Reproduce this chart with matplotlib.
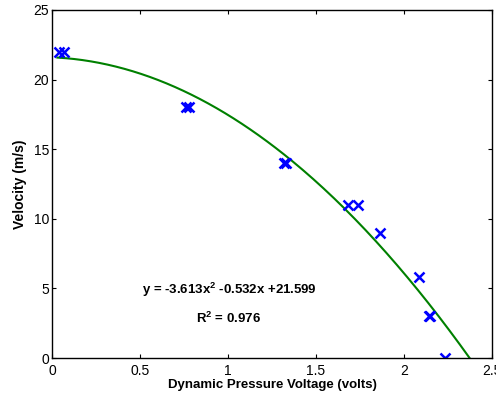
import numpy as np
from matplotlib import pyplot as plt

plt.rcParams['font.family'] = ['Liberation Sans', 'DejaVu Sans']
plt.rcParams['mathtext.fontset'] = 'custom'
plt.rcParams['mathtext.bf'] = 'Liberation Sans:bold'
plt.rcParams['mathtext.default'] = 'bf'

# ---------- data ----------
voltage = [0.04, 0.07, 0.76, 0.78, 1.32, 1.33, 1.68, 1.74, 1.865, 2.085, 2.14, 2.15, 2.235]
velocity = [22, 22, 18, 18, 14, 14, 11, 11, 9, 5.8, 3, 3, 0]
coef = [-3.613, -0.532, 21.599]
eq_text = 'y = -3.613x$^2$ -0.532x +21.599'
r2_text = 'R$^2$ = 0.976'

# ---------- fit curve ----------
x_fit = np.linspace(0.03, 2.4, 200)
y_fit = np.polyval(coef, x_fit)

fig = plt.figure(figsize=(4.96, 3.98), dpi=100)
ax = fig.add_axes([0.105, 0.1005, 0.887, 0.8745])
ax.plot(x_fit, y_fit, color='#008000', lw=1.5)
ax.plot(voltage, velocity, 'x', color='#0000ff', ms=7, mew=1.8)

ax.text(1.01, 4.9, eq_text, ha='center', va='center', fontsize=9.5, fontweight='bold')
ax.text(1.0, 2.85, r2_text, ha='center', va='center', fontsize=9.5, fontweight='bold')

ax.set_xlim(0, 2.5)
ax.set_ylim(0, 25)
ax.set_xticks([0, 0.5, 1, 1.5, 2, 2.5])
ax.set_xticklabels(['0', '0.5', '1', '1.5', '2', '2.5'])
ax.set_yticks([0, 5, 10, 15, 20, 25])
ax.tick_params(direction='in', top=True, right=True, labelsize=10, length=3)
ax.tick_params(axis='x', pad=4)
ax.tick_params(axis='y', pad=2)
ax.set_xlabel('Dynamic Pressure Voltage (volts)', fontsize=9.5, fontweight='bold', labelpad=1)
ax.set_ylabel('Velocity (m/s)', fontsize=10, fontweight='bold', labelpad=5)
for s in ax.spines.values():
    s.set_linewidth(1)

fig.savefig('out.png', dpi=100)
